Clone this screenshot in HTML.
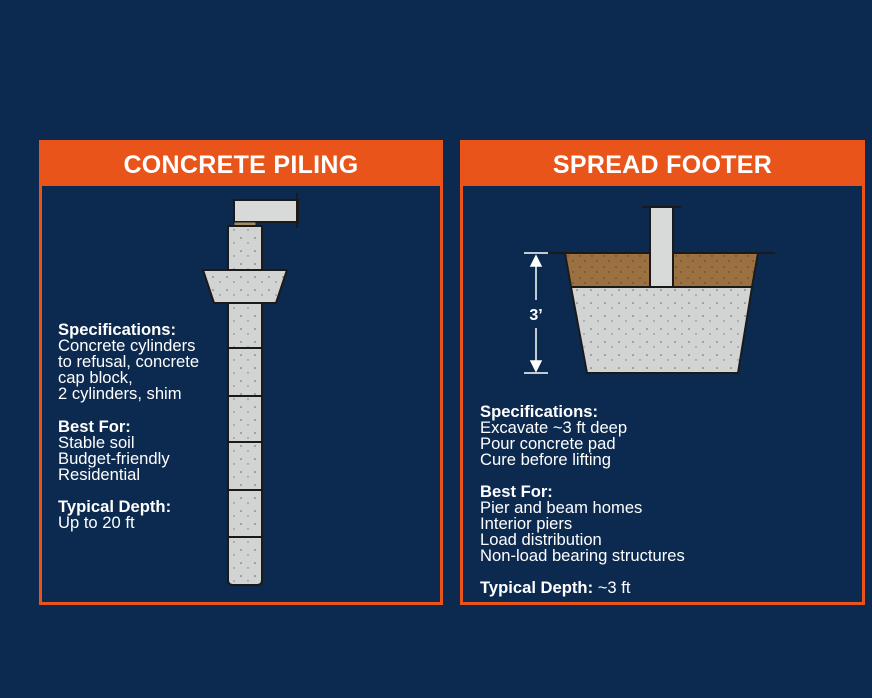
<!DOCTYPE html>
<html><head><style>
body{margin:0;width:872px;height:698px;background:#0c2a50;font-family:"Liberation Sans",sans-serif;position:relative;overflow:hidden}
.p{position:absolute;border:3px solid #e8541a;top:140px;height:465px;box-sizing:border-box}
.h{position:absolute;left:0;right:0;top:0;height:43px;background:#e8541a;color:#fff;font-weight:bold;font-size:25px;text-align:center;line-height:45px;letter-spacing:0.3px}
.t{position:absolute;color:#fff;font-size:16.6px;line-height:16px}
.t b{display:block}
</style></head><body>
<div class="p" style="left:39px;width:404px"><div class="h">CONCRETE PILING</div></div>
<div class="p" style="left:460px;width:405px"><div class="h">SPREAD FOOTER</div></div>
<svg width="872" height="698" style="position:absolute;left:0;top:0">
<defs><pattern id="sp" width="14" height="13" patternUnits="userSpaceOnUse"><rect width="14" height="13" fill="#d2d3d3"/><circle cx="3" cy="4" r="0.8" fill="#666"/><circle cx="10" cy="9" r="0.7" fill="#777"/></pattern>
<pattern id="so" width="12" height="11" patternUnits="userSpaceOnUse"><rect width="12" height="11" fill="#9c7142"/><circle cx="4" cy="3" r="0.7" fill="#5a3e22"/><circle cx="9" cy="8" r="0.7" fill="#5a3e22"/></pattern></defs>
<g stroke="#1a1a1a" stroke-width="2">
<rect x="234" y="200" width="64" height="22" fill="#d8d9d9"/>
<rect x="234" y="222" width="22" height="4" fill="#a68c63" stroke-width="1"/>
<path d="M228 226 H262 V580 Q262 585 257 585 H233 Q228 585 228 580 Z" fill="url(#sp)"/>
<path d="M228 348H262M228 396H262M228 442H262M228 490H262M228 537H262" fill="none"/>
<polygon points="203,270 287,270 276,303 214,303" fill="url(#sp)"/>
<line x1="297" y1="193" x2="297" y2="228"/>
<polygon points="565,253 758,253 752,287 571,287" fill="url(#so)"/>
<polygon points="571,287 752,287 738,373 587,373" fill="url(#sp)"/>
<rect x="650" y="207" width="23" height="80" fill="#d8d9d9"/>
<path d="M642 207H681M548 253H565M758 253H775" fill="none"/>
</g>
<g stroke="#fff" stroke-width="1.5" fill="#fff">
<path d="M524 253H548M524 373H548M536 258V300M536 328V368" fill="none"/>
<polygon points="536,256 531,266 541,266"/><polygon points="536,371 531,361 541,361"/>
</g>
<text x="536" y="320" fill="#fff" font-size="16" font-weight="bold" text-anchor="middle" font-family="Liberation Sans">3’</text>
</svg>
<div class="t" style="left:58px;top:322px"><b>Specifications:</b>Concrete cylinders<br>to refusal, concrete<br>cap block,<br>2 cylinders, shim</div>
<div class="t" style="left:58px;top:419px"><b>Best For:</b>Stable soil<br>Budget-friendly<br>Residential</div>
<div class="t" style="left:58px;top:499px"><b>Typical Depth:</b>Up to 20 ft</div>
<div class="t" style="left:480px;top:404px"><b>Specifications:</b>Excavate ~3 ft deep<br>Pour concrete pad<br>Cure before lifting</div>
<div class="t" style="left:480px;top:484px"><b>Best For:</b>Pier and beam homes<br>Interior piers<br>Load distribution<br>Non-load bearing structures</div>
<div class="t" style="left:480px;top:580px"><b style="display:inline">Typical Depth:</b> ~3 ft</div>
</body></html>
